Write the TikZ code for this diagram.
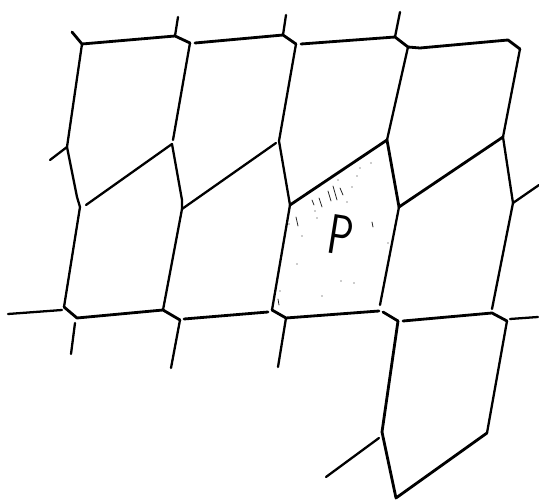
\documentclass[tikz,border=0pt]{standalone}
\usepackage{tikz}

\tikzset{
  wall/.style={line width=1.3pt,line cap=round,line join=round,black},
  heavywall/.style={line width=1.6pt,line cap=round,line join=round,black},
  stipple/.style={line width=0.45pt,line cap=round,black!85}
}

\begin{document}
\begin{tikzpicture}[x=0.02cm,y=-0.02cm]
\useasboundingbox (0,0) rectangle (539,500);

% top row
\coordinate (T0) at (72,32);
\coordinate (T1) at (82,44);
\coordinate (T2) at (175,36);
\coordinate (T2u) at (178,17);
\coordinate (T3) at (190,43);
\coordinate (T3r) at (195,43);
\coordinate (T4) at (283,35);
\coordinate (T4u) at (286,15);
\coordinate (T5) at (296,44);
\coordinate (T5r) at (301,44);
\coordinate (T6) at (395,37);
\coordinate (T6u) at (400,12);
\coordinate (T7) at (408,47);
\coordinate (T7r) at (420,48);
\coordinate (T8) at (508,40);
\coordinate (T9) at (520,49);

% middle row
\coordinate (M0) at (50,160);
\coordinate (M1) at (67,147);
\coordinate (M1b) at (77,197);
\coordinate (M2) at (80,207);
\coordinate (M2r) at (86,205);
\coordinate (M3) at (172,144);
\coordinate (M3u) at (173,140);
\coordinate (M4) at (182,200);
\coordinate (M5) at (182,209);
\coordinate (M6) at (276,143);
\coordinate (M7) at (279,141);
\coordinate (M8) at (290,205);
\coordinate (M9) at (387,140);
\coordinate (M10) at (399,207);
\coordinate (M11) at (503,137);
\coordinate (M12) at (513,203);
\coordinate (M13) at (539,185);

% bottom row
\coordinate (B0) at (8,314);
\coordinate (B1) at (62,310);
\coordinate (B2) at (64,307);
\coordinate (B3) at (77,318);
\coordinate (B3d) at (75,323);
\coordinate (B3s) at (71,354);
\coordinate (B4) at (163,310);
\coordinate (B5) at (180,320);
\coordinate (B5s) at (171,368);
\coordinate (B5r) at (184,319);
\coordinate (B6) at (268,312);
\coordinate (B7) at (272,310);
\coordinate (B8) at (286,318);
\coordinate (B8s) at (278,367);
\coordinate (B9) at (379,311);
\coordinate (B9u) at (380,305);
\coordinate (B10) at (383,312);
\coordinate (B11) at (398,321);
\coordinate (B11r) at (403,321);
\coordinate (B12) at (492,313);
\coordinate (B12u) at (492,309);
\coordinate (B13) at (507,321);
\coordinate (B14) at (510,319);
\coordinate (B15) at (538,317);

% lower cell
\coordinate (C0) at (326,477);
\coordinate (C1) at (379,438);
\coordinate (C2) at (382,432);
\coordinate (C3) at (396,498);
\coordinate (C4) at (487,433);

\draw[heavywall] (T0) -- (T1) -- (T2) -- (T3);
\draw[wall] (T2) -- (T2u);
\draw[heavywall] (T3r) -- (T4) -- (T5);
\draw[wall] (T4) -- (T4u);
\draw[heavywall] (T5r) -- (T6) -- (T7) -- (T7r) -- (T8) -- (T9);
\draw[wall] (T6) -- (T6u);

\draw[wall] (T1) -- (M1);
\draw[wall] (M0) -- (M1) -- (M1b) -- (M2);
\draw[wall] (M2r) -- (M3);
\draw[wall] (T3) -- (M3u);
\draw[wall] (M3) -- (M4) -- (M5);
\draw[wall] (M5) -- (M6);
\draw[wall] (T5) -- (M7) -- (M8);
\draw[heavywall] (M8) -- (M9);
\draw[wall] (T7) -- (M9);
\draw[heavywall] (M9) -- (M10);
\draw[heavywall] (M10) -- (M11);
\draw[wall] (T9) -- (M11) -- (M12) -- (M13);

\draw[wall] (M2) -- (B2);
\draw[wall] (M5) -- (B4);
\draw[wall] (M8) -- (B7);
\draw[wall] (M10) -- (B9u);
\draw[wall] (M12) -- (B12u);

\draw[wall] (B0) -- (B1);
\draw[heavywall] (B2) -- (B3) -- (B4) -- (B5);
\draw[wall] (B3d) -- (B3s);
\draw[wall] (B5) -- (B5s);
\draw[heavywall] (B5r) -- (B6);
\draw[heavywall] (B7) -- (B8) -- (B9);
\draw[wall] (B8) -- (B8s);
\draw[heavywall] (B10) -- (B11);
\draw[heavywall] (B11r) -- (B12) -- (B13);
\draw[wall] (B14) -- (B15);

\draw[heavywall] (B11) -- (C2);
\draw[wall] (B13) -- (C4);
\draw[wall] (C0) -- (C1);
\draw[heavywall] (C2) -- (C3) -- (C4);

\node[font=\sffamily\fontsize{32}{32}\selectfont,rotate=-9,xscale=0.74,inner sep=0pt] (P) at (341,235) {P};

% shading along the top of the cell
\foreach \x/\y/\u/\v in {319/198/322/207, 312/200/314/205, 328/191/331/201, 333/186/337/200,
    340/188/343/195, 296/217/298/226, 278/299/279/305, 372/222/373/227} {
  \draw[stipple] (\x,\y) -- (\u,\v);
}
\foreach \x/\y in {371/163, 360/168, 338/180, 352/187, 357/176, 347/202, 317/218, 302/236,
    297/264, 341/281, 354/283, 322/296, 280/291, 388/243, 289/224, 315/211} {
  \fill[black!85] (\x,\y) circle (0.6);
}
\end{tikzpicture}
\end{document}
